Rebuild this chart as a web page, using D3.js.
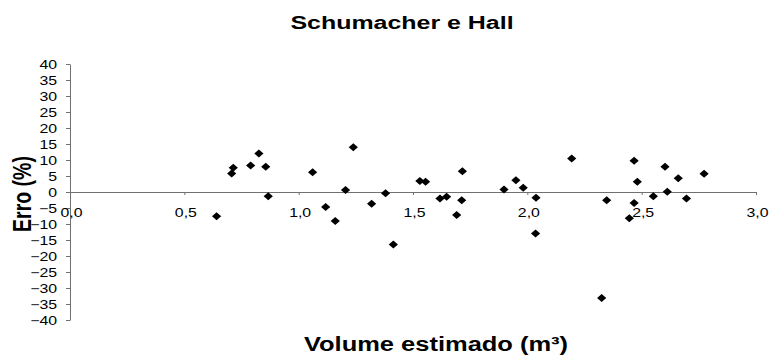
<!DOCTYPE html>
<html>
<head>
<meta charset="utf-8">
<script src="https://cdn.jsdelivr.net/npm/d3@7"></script>
<style>
  html, body { margin: 0; padding: 0; background: #fff; }
  svg { display: block; font-family: "Liberation Sans", Arial, Helvetica, sans-serif; }
</style>
</head>
<body>
<svg id="chart" width="770" height="358"></svg>
<script>
// Estimated volume (m³) and relative error (%) per tree
const volume = [0.641, 0.707, 0.714, 0.790, 0.826, 0.856, 0.867, 1.061, 1.118, 1.160,
                1.205, 1.239, 1.319, 1.380, 1.414, 1.530, 1.555, 1.618, 1.647, 1.691,
                1.713, 1.716, 1.898, 1.950, 1.982, 2.038, 2.036, 2.194, 2.325, 2.347,
                2.446, 2.467, 2.467, 2.481, 2.551, 2.602, 2.612, 2.660, 2.696, 2.773];
const erro   = [-7.6, 5.8, 7.6, 8.3, 12.0, 7.9, -1.3, 6.2, -4.7, -9.1,
                0.6, 14.0, -3.7, -0.4, -16.4, 3.4, 3.2, -2.0, -1.5, -7.2,
                -2.6, 6.5, 0.8, 3.7, 1.3, -1.8, -13.0, 10.5, -33.1, -2.6,
                -8.2, 9.8, -3.4, 3.2, -1.3, 7.9, 0.1, 4.3, -2.0, 5.7];
const xTicks = [0, 0.5, 1.0, 1.5, 2.0, 2.5, 3.0];
const yTicks = [40, 35, 30, 25, 20, 15, 10, 5, 0, -5, -10, -15, -20, -25, -30, -35, -40];

const title = "Schumacher e Hall";
const xTitle = "Volume estimado (m³)";
const yTitle = "Erro (%)";

const SX = 1.3;              // horizontal text stretch
const axisColor = "#707070";
const fmt = v => d3.format(".1f")(v).replace(".", ",");

const svg = d3.select("#chart");
const x = d3.scaleLinear().domain([0, 3]).range([70, 756]);
const y = d3.scaleLinear().domain([-40, 40]).range([320, 64]);

// Vertical axis (left)
const gy = svg.append("g")
  .attr("transform", `translate(${x(0)},0)`)
  .call(d3.axisLeft(y).tickValues(yTicks).tickSize(4).tickSizeOuter(0).tickFormat(d3.format("d")));
gy.select(".domain").attr("stroke", axisColor);
gy.selectAll(".tick line").attr("stroke", axisColor);
gy.selectAll(".tick text")
  .attr("x", 0).attr("dy", "0.36em")
  .attr("transform", `translate(-13,0) scale(${SX},1)`)
  .attr("font-size", 12.2).attr("fill", "#000")
  .attr("font-family", "Liberation Sans, Arial, sans-serif");

// Horizontal axis along the zero line
const gx = svg.append("g")
  .attr("transform", `translate(0,${y(0)})`)
  .call(d3.axisBottom(x).tickValues(xTicks).tickSize(3).tickSizeOuter(0).tickFormat(fmt));
gx.select(".domain").attr("stroke", axisColor);
gx.selectAll(".tick line").attr("stroke", axisColor);
gx.selectAll(".tick text")
  .attr("y", 0).attr("dy", 0)
  .attr("transform", `translate(1,24.5) scale(${SX},1)`)
  .attr("font-size", 12.2).attr("fill", "#000")
  .attr("font-family", "Liberation Sans, Arial, sans-serif");

// Diamond markers
const diamond = "M0,-4L4.6,0L0,4L-4.6,0Z";
svg.append("g").selectAll("path")
  .data(volume.map((v, i) => ({ v, e: erro[i] })))
  .join("path")
  .attr("d", diamond)
  .attr("transform", d => `translate(${x(d.v)},${y(d.e)})`)
  .attr("fill", "#000");

// Titles
svg.append("text")
  .attr("transform", `translate(402,28.5) scale(${SX},1)`)
  .attr("text-anchor", "middle").attr("font-weight", "bold").attr("font-size", 19.2)
  .text(title);

svg.append("text")
  .attr("transform", `translate(436,351) scale(${SX},1)`)
  .attr("text-anchor", "middle").attr("font-weight", "bold").attr("font-size", 19.6)
  .text(xTitle);

svg.append("text")
  .attr("transform", `translate(31,194) scale(${SX},1) rotate(-90)`)
  .attr("text-anchor", "middle").attr("font-weight", "bold").attr("font-size", 19.5)
  .text(yTitle);
</script>
</body>
</html>
